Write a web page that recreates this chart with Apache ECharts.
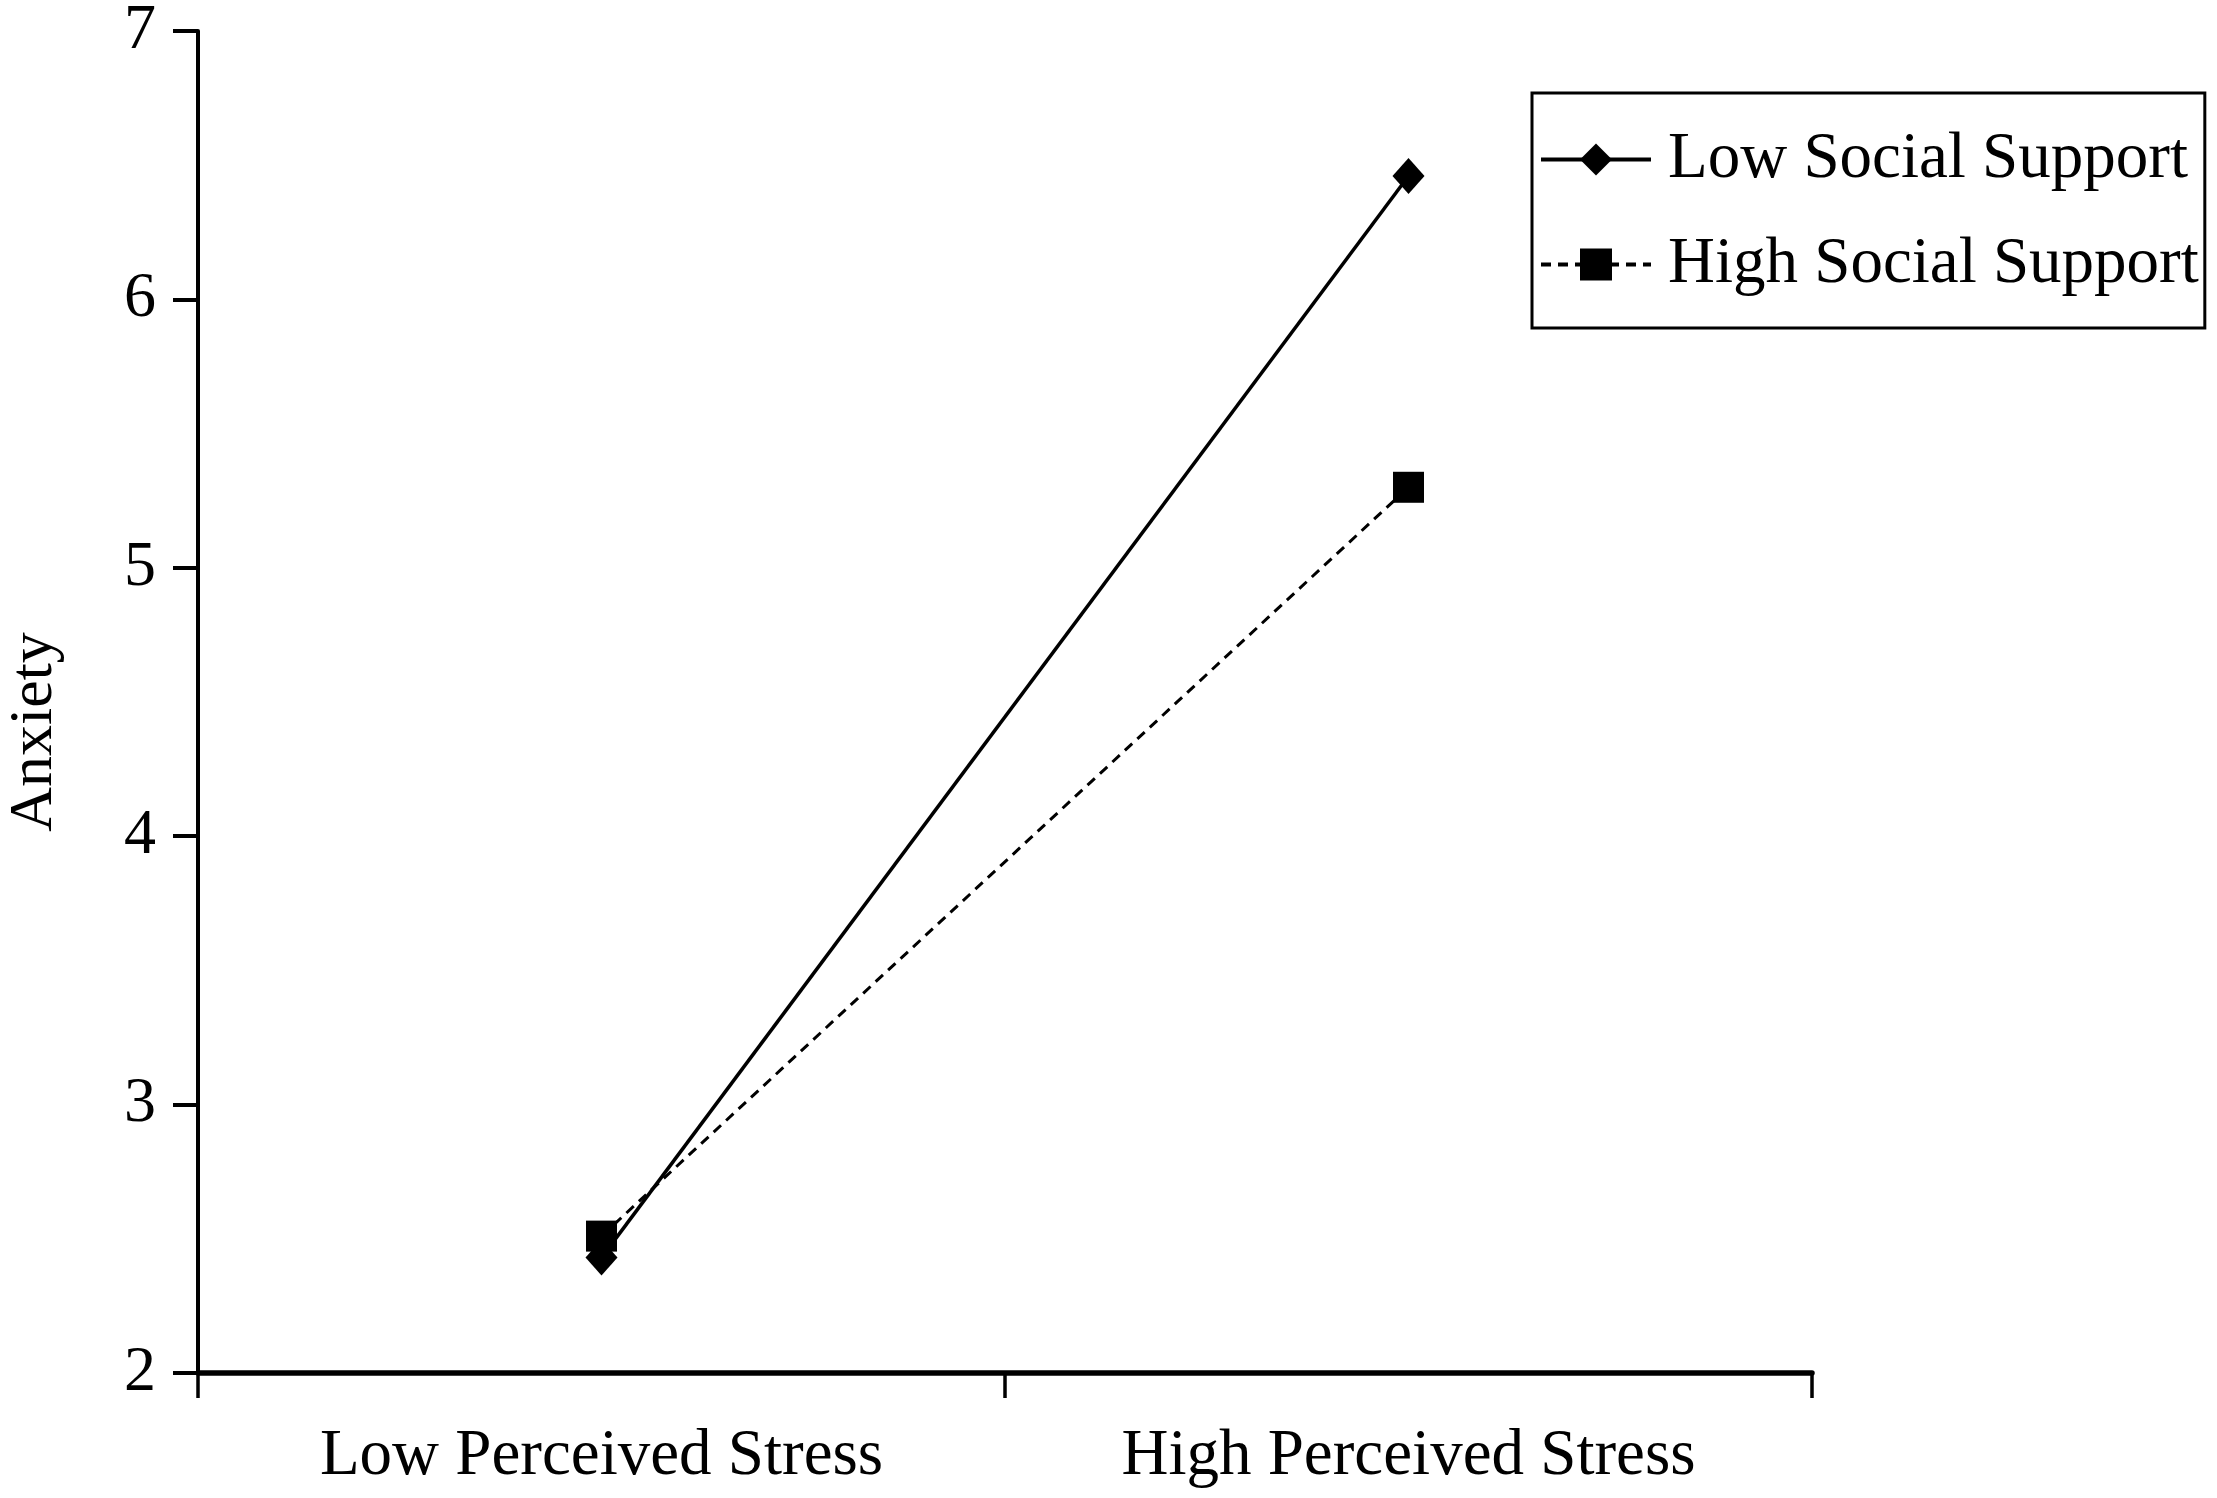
<!DOCTYPE html>
<html>
<head>
<meta charset="utf-8">
<script src="https://cdn.jsdelivr.net/npm/echarts@6/dist/echarts.min.js"></script>
<style>
html,body{margin:0;padding:0;background:#fff;}
#chart{width:2217px;height:1498px;}
</style>
</head>
<body>
<div id="chart"></div>
<script>
const categories = ["Low Perceived Stress", "High Perceived Stress"];
const seriesNames = ["Low Social Support", "High Social Support"];
const lowSupport = [2.43, 6.46];
const highSupport = [2.51, 5.30];
const yTicks = [2, 3, 4, 5, 6, 7];

const FONT = '"Liberation Serif", "Times New Roman", serif';
const chart = echarts.init(document.getElementById('chart'));
chart.setOption({
  animation: false,
  backgroundColor: '#fff',
  textStyle: { fontFamily: FONT, color: '#000' },
  grid: { left: 198, right: 405, top: 31, bottom: 125, containLabel: false, outerBoundsMode: 'none' },
  legend: {
    orient: 'vertical',
    left: 1532,
    top: 93,
    padding: [34, 6, 31, 7],
    itemWidth: 110,
    itemHeight: 40,
    itemGap: 40,
    borderColor: '#000',
    borderWidth: 3,
    lineStyle: { width: 4 },
    textStyle: { fontFamily: FONT, fontSize: 65, color: '#000', padding: [0, 0, 0, 12] },
    data: seriesNames
  },
  xAxis: {
    type: 'category',
    data: categories,
    boundaryGap: true,
    axisLine: { lineStyle: { color: '#000', width: 5.5 } },
    axisTick: { show: true, length: 25, lineStyle: { color: '#000', width: 3.5 } },
    axisLabel: { fontFamily: FONT, fontSize: 65, color: '#000', margin: 51 },
    splitLine: { show: false }
  },
  yAxis: {
    type: 'value',
    min: yTicks[0],
    max: yTicks[yTicks.length - 1],
    interval: 1,
    name: 'Anxiety',
    nameLocation: 'middle',
    nameGap: 132,
    nameTextStyle: { fontFamily: FONT, fontSize: 62, color: '#000', padding: [0, 0, 0, -60] },
    axisLine: { show: true, lineStyle: { color: '#000', width: 4 } },
    axisTick: { show: true, length: 25, lineStyle: { color: '#000', width: 4 } },
    axisLabel: { fontFamily: FONT, fontSize: 64, color: '#000', margin: 42 },
    splitLine: { show: false }
  },
  series: [
    {
      name: seriesNames[0],
      type: 'line',
      data: lowSupport,
      symbol: 'diamond',
      symbolSize: [32, 36],
      itemStyle: { color: '#000' },
      lineStyle: { color: '#000', width: 3.5, type: 'solid' },
      z: 2
    },
    {
      name: seriesNames[1],
      type: 'line',
      data: highSupport,
      symbol: 'rect',
      symbolSize: 31,
      itemStyle: { color: '#000' },
      lineStyle: { color: '#000', width: 3, type: [10, 7] },
      z: 3
    }
  ]
});
</script>
</body>
</html>
